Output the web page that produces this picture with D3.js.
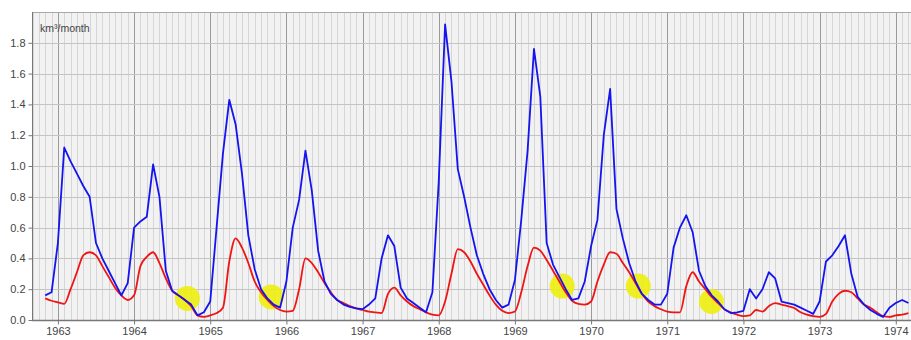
<!DOCTYPE html>
<html>
<head>
<meta charset="utf-8">
<script src="https://cdn.jsdelivr.net/npm/d3@7"></script>
<style>
  html, body { margin: 0; padding: 0; background: #ffffff; }
  svg { display: block; }
  text { font-family: "Liberation Sans", Arial, sans-serif; }
</style>
</head>
<body>
<svg id="chart" width="911" height="340"></svg>
<script>
// ---- data ----
const startYear = 1962;          // first observation: November 1962
const startMonth = 11;
const unitLabel = "km³/month";
const yearTicks = [1963, 1964, 1965, 1966, 1967, 1968, 1969, 1970, 1971, 1972, 1973, 1974];
const yTicks = [0.0, 0.2, 0.4, 0.6, 0.8, 1.0, 1.2, 1.4, 1.6, 1.8];

const blueValues = [
  0.16, 0.18, 0.50, 1.12, 1.03, 0.95, 0.87, 0.80, 0.50, 0.40, 0.32, 0.24,
  0.16, 0.24, 0.60, 0.64, 0.67, 1.01, 0.80, 0.32, 0.19, 0.16, 0.13, 0.10,
  0.03, 0.05, 0.12, 0.60, 1.08, 1.43, 1.27, 0.95, 0.55, 0.33, 0.20, 0.14,
  0.10, 0.08, 0.25, 0.60, 0.78, 1.10, 0.84, 0.45, 0.25, 0.17, 0.13, 0.10,
  0.085, 0.075, 0.07, 0.10, 0.14, 0.40, 0.55, 0.48, 0.21, 0.14, 0.11, 0.08,
  0.05, 0.18, 0.90, 1.92, 1.55, 0.98, 0.80, 0.60, 0.42, 0.30, 0.20, 0.13,
  0.08, 0.10, 0.26, 0.65, 1.10, 1.76, 1.45, 0.50, 0.36, 0.28, 0.20, 0.13,
  0.14, 0.25, 0.48, 0.65, 1.20, 1.50, 0.72, 0.53, 0.37, 0.25, 0.17, 0.13,
  0.10, 0.10, 0.17, 0.47, 0.60, 0.68, 0.57, 0.32, 0.22, 0.16, 0.12, 0.07,
  0.045, 0.05, 0.06, 0.20, 0.14, 0.20, 0.31, 0.27, 0.12, 0.11, 0.10, 0.08,
  0.06, 0.04, 0.12, 0.38, 0.42, 0.48, 0.55, 0.30, 0.15, 0.10, 0.065, 0.04,
  0.02, 0.08, 0.11, 0.13, 0.11
];
const redValues = [
  0.14, 0.125, 0.115, 0.105, 0.20, 0.31, 0.42, 0.44, 0.42, 0.35, 0.28, 0.21,
  0.16, 0.13, 0.16, 0.35, 0.41, 0.44, 0.37, 0.27, 0.19, 0.16, 0.13, 0.09,
  0.03, 0.02, 0.03, 0.045, 0.08, 0.38, 0.53, 0.47, 0.37, 0.25, 0.18, 0.13,
  0.09, 0.065, 0.055, 0.06, 0.20, 0.40, 0.37, 0.31, 0.24, 0.18, 0.13, 0.11,
  0.09, 0.075, 0.065, 0.055, 0.05, 0.045, 0.17, 0.21, 0.16, 0.12, 0.09, 0.07,
  0.05, 0.035, 0.03, 0.12, 0.30, 0.46, 0.44, 0.38, 0.30, 0.23, 0.16, 0.10,
  0.06, 0.045, 0.055, 0.18, 0.35, 0.47, 0.45, 0.39, 0.32, 0.25, 0.18, 0.125,
  0.105, 0.10, 0.12, 0.25, 0.36, 0.44, 0.43, 0.37, 0.31, 0.24, 0.17, 0.12,
  0.09, 0.07, 0.055, 0.05, 0.05, 0.22, 0.31, 0.25, 0.20, 0.15, 0.11, 0.07,
  0.05, 0.035, 0.025, 0.03, 0.065, 0.055, 0.09, 0.11, 0.10, 0.09, 0.078, 0.05,
  0.035, 0.025, 0.02, 0.04, 0.12, 0.17, 0.19, 0.18, 0.14, 0.10, 0.08, 0.05,
  0.025, 0.02, 0.03, 0.035, 0.045
];
// highlighted points (yellow markers): decimal year and value
const highlightTimes  = [1964.70, 1965.80, 1969.62, 1970.62, 1971.58];
const highlightValues = [0.14, 0.15, 0.22, 0.22, 0.12];

// ---- layout ----
const plot = { left: 32, right: 911, top: 12, bottom: 320 };

const svg = d3.select("#chart");
const monthTime = i => startYear + (startMonth - 1 + i) / 12;

const x = d3.scaleLinear().domain([1962.66, 1974.2]).range([plot.left, plot.right]);
const y = d3.scaleLinear().domain([0, 2.0]).range([plot.bottom, plot.top]);

// plot background
svg.append("rect")
  .attr("x", plot.left).attr("y", plot.top)
  .attr("width", plot.right - plot.left).attr("height", plot.bottom - plot.top)
  .attr("fill", "#f2f2f2");

// monthly vertical grid
const monthGrid = d3.range(Math.ceil(1962.66 * 12), Math.floor(1974.2 * 12) + 1).map(m => m / 12);
svg.append("g").selectAll("line").data(monthGrid).join("line")
  .attr("x1", d => Math.round(x(d)) + 0.5).attr("x2", d => Math.round(x(d)) + 0.5)
  .attr("y1", plot.top).attr("y2", plot.bottom)
  .attr("stroke", d => Math.abs(d - Math.round(d)) < 1e-6 ? "#9a9a9a" : "#d6d6d6")
  .attr("stroke-width", 1);

// horizontal grid
svg.append("g").selectAll("line").data(yTicks.filter(v => v > 0)).join("line")
  .attr("x1", plot.left).attr("x2", plot.right)
  .attr("y1", d => Math.round(y(d)) + 0.5).attr("y2", d => Math.round(y(d)) + 0.5)
  .attr("stroke", "#c4c4c4").attr("stroke-width", 1);

// top border
svg.append("line")
  .attr("x1", plot.left).attr("x2", plot.right)
  .attr("y1", plot.top + 0.5).attr("y2", plot.top + 0.5)
  .attr("stroke", "#a8a8a8");

// yellow highlight markers
svg.append("g").selectAll("circle").data(highlightTimes).join("circle")
  .attr("cx", (d) => x(d))
  .attr("cy", (d, i) => y(highlightValues[i]))
  .attr("r", 12.5)
  .attr("fill", "#eeee10")
  .attr("opacity", 0.9);

// axes
const yAxis = d3.axisLeft(y).tickValues(yTicks).tickFormat(d3.format(".1f")).tickSize(4).tickPadding(3);
const gy = svg.append("g").attr("transform", `translate(${plot.left + 0.5},0)`).call(yAxis);
gy.select(".domain").attr("stroke", "#777").attr("d", `M0,${plot.top}V${plot.bottom + 0.5}`);
gy.selectAll(".tick line").attr("stroke", "#777");
gy.selectAll("text").attr("fill", "#444").style("font-size", "11px");

const xAxis = d3.axisBottom(x).tickValues(yearTicks).tickFormat(d3.format("d")).tickSize(4).tickPadding(3);
const gx = svg.append("g").attr("transform", `translate(0,${plot.bottom + 0.5})`).call(xAxis);
gx.select(".domain").attr("stroke", "#777").attr("stroke-width", 1.5).attr("d", `M${plot.left},0H${plot.right}`);
gx.selectAll(".tick line").attr("stroke", "#777");
gx.selectAll("text").attr("fill", "#444").style("font-size", "11px");

// unit label
svg.append("text").attr("x", 40).attr("y", 32)
  .attr("fill", "#444").style("font-size", "10.5px").text(unitLabel);

// lines
const redLine = d3.line().x((d, i) => x(monthTime(i))).y(d => y(d)).curve(d3.curveMonotoneX);
const blueLine = d3.line().x((d, i) => x(monthTime(i))).y(d => y(d));

svg.append("path").datum(redValues).attr("d", redLine)
  .attr("fill", "none").attr("stroke", "#f01414").attr("stroke-width", 1.8)
  .attr("stroke-linejoin", "round");
svg.append("path").datum(blueValues).attr("d", blueLine)
  .attr("fill", "none").attr("stroke", "#1414f0").attr("stroke-width", 1.8)
  .attr("stroke-linejoin", "round");
</script>
</body>
</html>
